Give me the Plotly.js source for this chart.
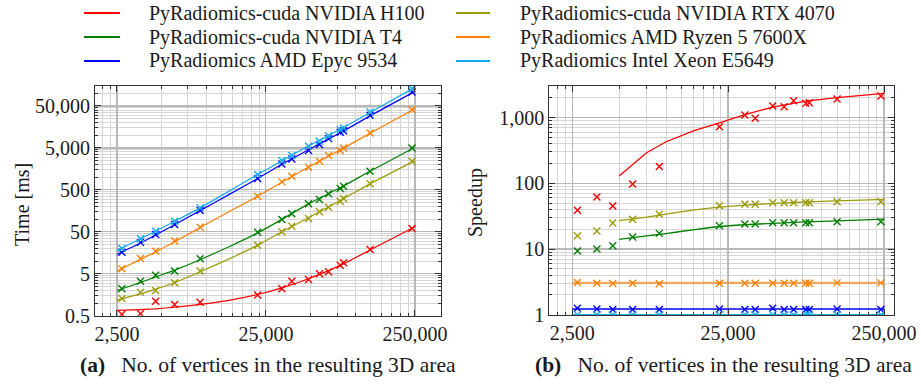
<!DOCTYPE html>
<html><head><meta charset="utf-8">
<script src="https://cdn.plot.ly/plotly-3.0.1.min.js"></script>
<style>html,body{margin:0;padding:0;background:#fff}#chart{width:921px;height:385px}</style>
</head><body><div id="chart"></div>
<script>
// ---------- data ----------
const vertices = [2700, 3600, 4550, 6100, 9050, 22000, 32000, 37300, 48300, 57200, 65800, 78800, 83000, 125000, 239000];

const seriesLabels = ['PyRadiomics-cuda NVIDIA H100', 'PyRadiomics-cuda NVIDIA T4', 'PyRadiomics AMD Epyc 9534',
                      'PyRadiomics-cuda NVIDIA RTX 4070', 'PyRadiomics AMD Ryzen 5 7600X', 'PyRadiomics Intel Xeon E5649'];

// (a) measured time [ms]
const timeH100  = [0.54, 0.56, 1.11, 0.93, 1.05, 1.55, 2.2, 3.33, 3.66, 5.0, 5.6, 8.0, 9.1, 19, 60];
const timeT4    = [2.2, 3.3, 4.6, 5.8, 11.4, 49, 98, 134, 232, 294, 402, 537, 610, 1386, 5000];
const timeEpyc  = [16.3, 28, 43, 75, 161, 929, 2080, 2735, 4315, 6000, 8330, 11750, 12900, 29900, 107700];
const timeRTX   = [1.29, 1.8, 2.0, 3.05, 5.8, 24, 50, 68, 104, 150, 193, 268, 310, 695, 2400];
const timeRyzen = [6.6, 11.6, 17.3, 30, 64, 352, 775, 1054, 1725, 2400, 3280, 4315, 5000, 11400, 40850];
const timeXeon  = [20.0, 34, 51.7, 89, 186, 1157, 2490, 3280, 5460, 7180, 9800, 13650, 14960, 35960, 129000];

// (a) fitted curves
const fitVerticesA = [2500, 3600, 4550, 6100, 9050, 14400, 22000, 32000, 48300, 83000, 125000, 250000];
const fitTimeH100  = [0.67, 0.70, 0.73, 0.80, 0.93, 1.18, 1.6, 2.3, 3.8, 8.6, 18.5, 66];
const fitTimeT4    = [2.0, 3.1, 4.2, 6.1, 10.8, 22.7, 47, 99, 232, 620, 1386, 5160];
const fitTimeEpyc  = [14.4, 27, 42, 74, 160, 401, 929, 2030, 4500, 12700, 29000, 111400];
const fitTimeRTX   = [1.18, 1.65, 2.15, 3.1, 5.6, 11.6, 24, 50, 108, 310, 695, 2490];
const fitTimeRyzen = [5.8, 11, 16.5, 29, 63, 156, 352, 760, 1760, 4950, 11200, 43000];
const fitTimeXeon  = [18, 34, 51.7, 89, 186, 484, 1157, 2460, 5550, 15400, 34800, 138600];

// (b) measured speedup
const speedH100  = [39, 62, 45, 97.6, 180, 727, 1096, 976, 1502, 1465, 1808, 1650, 1686, 1919, 2132];
const speedT4    = [9.3, 10, 11.2, 15.2, 17.3, 22.6, 24, 24, 25.1, 25.1, 25.1, 25.1, 25.1, 26, 26];
const speedEpyc  = [1.25, 1.22, 1.2, 1.2, 1.2, 1.22, 1.2, 1.2, 1.25, 1.2, 1.2, 1.2, 1.2, 1.22, 1.2];
const speedRTX   = [15.9, 18.8, 24.9, 28.3, 33.7, 45.6, 47.9, 47.9, 50.7, 50.7, 50.7, 50.7, 50.7, 52.5, 52.5];
const speedRyzen = [3.1, 3.0, 2.98, 3.0, 2.95, 3.0, 3.0, 3.0, 3.0, 3.0, 3.0, 3.0, 3.0, 3.05, 3.05];
const speedXeon  = [1.0, 1.0, 1.0, 1.0, 1.0, 1.0, 1.0, 1.0, 1.0, 1.0, 1.0, 1.0, 1.0, 1.0, 1.0];

// (b) fitted curves
const fitVerticesB = [5000, 7500, 10000, 15300, 22000, 32000, 48300, 78800, 125000, 250000];
const fitSpeedH100 = [129, 292, 430, 640, 836, 1110, 1450, 1790, 2020, 2343];
const fitSpeedT4   = [14, 15.8, 17.2, 19.8, 22.0, 23.4, 24.6, 25.8, 26.8, 28.6];
const fitSpeedRTX  = [27, 30.5, 34, 39.5, 43.5, 46.5, 49.5, 52, 54, 57];
const fitVerticesFlat = [2500, 250000];
const fitSpeedEpyc  = [1.22, 1.22];
const fitSpeedRyzen = [3.05, 3.05];
const fitSpeedXeon  = [1.0, 1.0];

// ticks
const xTickVals = [2500, 25000, 250000];
const xTickText = ['2,500', '25,000', '250,000'];
const yTickValsA = [0.5, 5, 50, 500, 5000, 50000];
const yTickTextA = ['0.5', '5', '50', '500', '5,000', '50,000'];
const yTickValsB = [1, 10, 100, 1000];
const yTickTextB = ['1', '10', '100', '1,000'];

const captions = ['(a)', '(b)'];
const captionText = 'No. of vertices in the resulting 3D area';

// ---------- styling ----------
const colors = ['#ff0000', '#008000', '#0000ff', '#9c9c0a', '#ff8000', '#13abec'];
const FONT = 'Liberation Serif, Times New Roman, serif';
const W = 921, H = 385;

const timeData  = [timeH100, timeT4, timeEpyc, timeRTX, timeRyzen, timeXeon];
const timeFits  = [fitTimeH100, fitTimeT4, fitTimeEpyc, fitTimeRTX, fitTimeRyzen, fitTimeXeon];
const speedData = [speedH100, speedT4, speedEpyc, speedRTX, speedRyzen, speedXeon];
const speedFits = [[fitVerticesB, fitSpeedH100], [fitVerticesB, fitSpeedT4], [fitVerticesFlat, fitSpeedEpyc],
                   [fitVerticesB, fitSpeedRTX], [fitVerticesFlat, fitSpeedRyzen], [fitVerticesFlat, fitSpeedXeon]];

function minorVals(bases, lo, hi) {
  const out = [];
  for (let e = lo; e <= hi; e++) {
    for (const b of bases) {
      for (let k = 2; k <= 9; k++) out.push(b * k * Math.pow(10, e));
    }
  }
  return out;
}

const traces = [];
for (let i = 0; i < 6; i++) {
  traces.push({x: fitVerticesA, y: timeFits[i], xaxis: 'x', yaxis: 'y', mode: 'lines',
    line: {color: colors[i], width: 1.2, shape: 'spline', smoothing: 0.5}, showlegend: false, hoverinfo: 'skip'});
  traces.push({x: vertices, y: timeData[i], xaxis: 'x', yaxis: 'y', mode: 'markers',
    marker: {symbol: 'x-thin-open', size: 7, color: colors[i], line: {color: colors[i], width: 1.4}}, showlegend: false});
  const isRyzen = i === 4;
  traces.push({x: speedFits[i][0], y: speedFits[i][1], xaxis: 'x2', yaxis: 'y2', mode: 'lines',
    line: {color: isRyzen ? 'rgba(245,140,45,0.75)' : colors[i], width: isRyzen ? 2.4 : 1.3,
           shape: (i === 0 ? 'linear' : 'spline'), smoothing: 0.5},
    showlegend: false, hoverinfo: 'skip'});
  traces.push({x: vertices, y: speedData[i], xaxis: 'x2', yaxis: 'y2', mode: 'markers',
    marker: {symbol: 'x-thin-open', size: 7, color: colors[i], line: {color: colors[i], width: 1.4}}, showlegend: false});
}

function axis(opts) {
  return Object.assign({
    type: 'log', tickmode: 'array', ticks: 'inside', ticklen: 6, tickwidth: 1, tickcolor: '#333',
    showline: true, linecolor: '#333', linewidth: 1, mirror: 'ticks', zeroline: false,
    showgrid: true, gridcolor: '#b8b8b8', gridwidth: 1.2,
    tickfont: {family: FONT, size: 20, color: '#1a1a1a'},
  }, opts);
}

const xMinor = minorVals([2500], -1, 2);
const yMinorA = minorVals([0.5], -1, 5);
const yMinorB = minorVals([1], -1, 4);
const minorStyle = {ticks: 'inside', ticklen: 3, tickwidth: 1, tickcolor: '#333', showgrid: true, gridcolor: '#d6d6d6', gridwidth: 1, tickmode: 'array'};

const layout = {
  width: W, height: H, margin: {l: 0, r: 0, t: 0, b: 0},
  paper_bgcolor: '#fff', plot_bgcolor: '#fff', showlegend: false,
  font: {family: FONT, size: 20, color: '#1a1a1a'},
  xaxis: axis({range: [3.251, 5.571], domain: [95 / W, 440.7 / W], anchor: 'y', tickvals: xTickVals, ticktext: xTickText,
    minor: Object.assign({tickvals: xMinor}, minorStyle)}),
  yaxis: axis({range: [Math.log10(0.5), 5.175], domain: [1 - 315.7 / H, 1 - 86 / H], anchor: 'x', tickvals: yTickValsA, ticktext: yTickTextA,
    minor: Object.assign({tickvals: yMinorA}, minorStyle)}),
  xaxis2: axis({range: [3.251, 5.464], domain: [549.3 / W, 894.3 / W], anchor: 'y2', tickvals: xTickVals, ticktext: xTickText,
    minor: Object.assign({tickvals: xMinor}, minorStyle)}),
  yaxis2: axis({range: [-0.005, 3.482], domain: [1 - 315 / H, 1 - 86 / H], anchor: 'x2', tickvals: yTickValsB, ticktext: yTickTextB,
    minor: Object.assign({tickvals: yMinorB}, minorStyle)}),
  shapes: [], annotations: []
};

// legend (two columns, three rows)
for (let i = 0; i < 6; i++) {
  const col = i < 3 ? 0 : 1, row = i % 3;
  const yPix = 13 + 24 * row;
  const lx0 = col === 0 ? 84 : 456, lx1 = col === 0 ? 120 : 490, tx = col === 0 ? 147 : 518;
  layout.shapes.push({type: 'line', xref: 'paper', yref: 'paper', x0: lx0 / W, x1: lx1 / W, y0: 1 - yPix / H, y1: 1 - yPix / H,
    line: {color: colors[i], width: 2}});
  layout.annotations.push({xref: 'paper', yref: 'paper', x: tx / W, y: 1 - yPix / H, xanchor: 'left', yanchor: 'middle',
    text: seriesLabels[i], showarrow: false, font: {family: FONT, size: 20, color: '#1a1a1a'}});
}
// axis titles
layout.annotations.push({xref: 'paper', yref: 'paper', x: 22 / W, y: 1 - 205 / H, text: 'Time [ms]', textangle: -90,
  showarrow: false, xanchor: 'center', yanchor: 'middle', font: {family: FONT, size: 20, color: '#1a1a1a'}});
layout.annotations.push({xref: 'paper', yref: 'paper', x: 476 / W, y: 1 - 203 / H, text: 'Speedup', textangle: -90,
  showarrow: false, xanchor: 'center', yanchor: 'middle', font: {family: FONT, size: 20, color: '#1a1a1a'}});
// captions
[268, 723].forEach((cx, j) => {
  layout.annotations.push({xref: 'paper', yref: 'paper', x: cx / W, y: 1 - 365 / H, xanchor: 'center', yanchor: 'middle',
    text: '<b>' + captions[j] + '</b>\u2002 ' + captionText, showarrow: false, font: {family: FONT, size: 21.5, color: '#1a1a1a'}});
});

Plotly.newPlot('chart', traces, layout, {displayModeBar: false, staticPlot: true});
</script></body></html>
